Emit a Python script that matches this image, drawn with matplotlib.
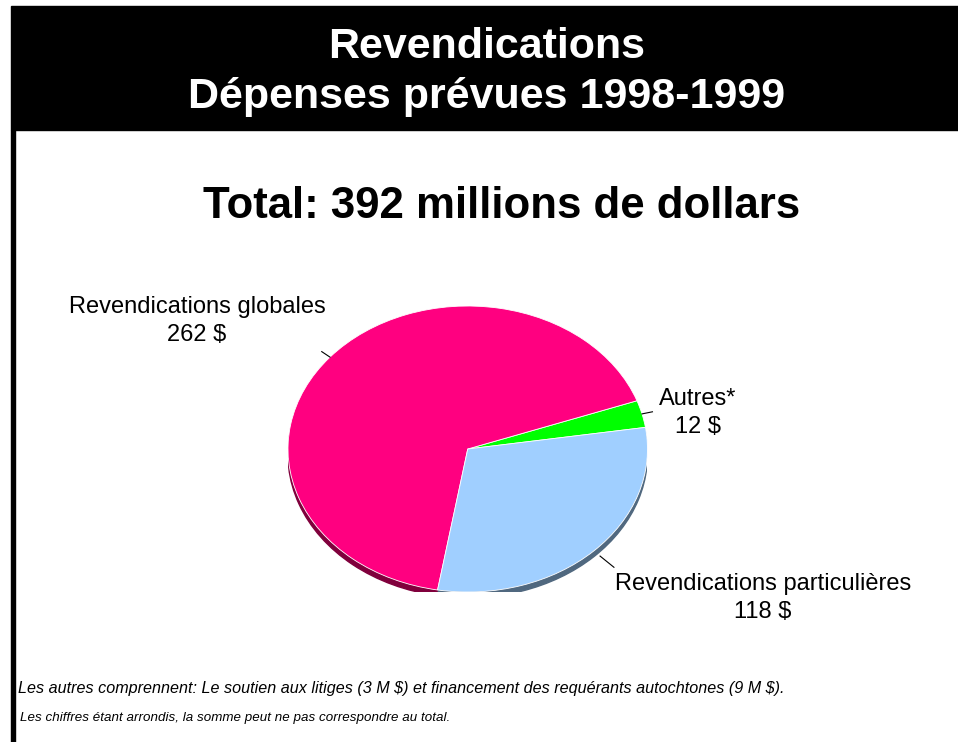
import numpy as np
import matplotlib
matplotlib.use("Agg")
import matplotlib.pyplot as plt
from matplotlib.patches import Rectangle, Wedge

plt.rcParams['font.family'] = ['Liberation Sans', 'DejaVu Sans']
plt.rcParams['text.parse_math'] = False

W, H = 958, 742

# data (millions de dollars)
categories = ['Autres*', 'Revendications globales', 'Revendications particulières']
values = [12, 262, 118]
colors = ['#00ff00', '#ff0080', '#a0cfff']
shadow_colors = ['#008800', '#80003c', '#50687f']
label_text = ['Autres*\n12 $', 'Revendications globales\n262 $',
              'Revendications particulières\n118 $']
label_pos = [(698, 413), (197, 321), (763, 598)]


def px(x, y):
    return x / W, 1 - y / H


fig = plt.figure(figsize=(W / 100, H / 100), dpi=100)
fig.patch.set_facecolor('white')

# black header band and left rule
fig.patches.append(Rectangle(px(11, 130), (W - 11) / W, 124 / H,
                             transform=fig.transFigure, color='black', zorder=0))
fig.patches.append(Rectangle(px(11, H), 4 / W, (H - 130) / H,
                             transform=fig.transFigure, color='black', zorder=0))

fig.text(*px(487, 47), 'Revendications', color='white', fontsize=31,
         fontweight='bold', ha='center', va='center')
fig.text(*px(487, 97), 'Dépenses prévues 1998-1999', color='white', fontsize=31,
         fontweight='bold', ha='center', va='center')
fig.text(*px(502, 207), 'Total: 392 millions de dollars', color='black', fontsize=31.5,
         fontweight='bold', ha='center', va='center')

# pie drawn as an ellipse
ax = fig.add_axes([288 / W, 1 - 592 / H, 359.5 / W, 286 / H])
start = 8.7
total = sum(values)
angles = np.cumsum([0] + values) / total * 360 + start

# shadow underneath
for i in range(len(values)):
    ax.add_patch(Wedge((0, -0.04), 1, angles[i], angles[i + 1],
                       color=shadow_colors[i], zorder=1))

ax.pie(values, colors=colors, startangle=start, counterclock=True,
       wedgeprops=dict(edgecolor='white', linewidth=0.6, zorder=2))
ax.set_aspect('auto')
ax.set_xlim(-1, 1)
ax.set_ylim(-1, 1)
ax.axis('off')

# leader ticks
for i in range(len(values)):
    mid = np.deg2rad((angles[i] + angles[i + 1]) / 2)
    r0, r1 = (1.0, 1.06) if i != 2 else (1.05, 1.16)
    ax.plot([r0 * np.cos(mid), r1 * np.cos(mid)],
            [r0 * np.sin(mid), r1 * np.sin(mid)],
            color='black', lw=0.8, clip_on=False, zorder=3)

for txt, (x, y) in zip(label_text, label_pos):
    fig.text(*px(x, y), txt, fontsize=17, ha='center', va='center',
             linespacing=1.4)

fig.text(*px(18, 689), 'Les autres comprennent: Le soutien aux litiges (3 M $) et '
         'financement des requérants autochtones (9 M $).',
         fontsize=11.6, style='italic', ha='left', va='center')
fig.text(*px(20, 718), 'Les chiffres étant arrondis, la somme peut ne pas '
         'correspondre au total.', fontsize=9.6, style='italic',
         ha='left', va='center')

fig.savefig('out.png', dpi=100)
